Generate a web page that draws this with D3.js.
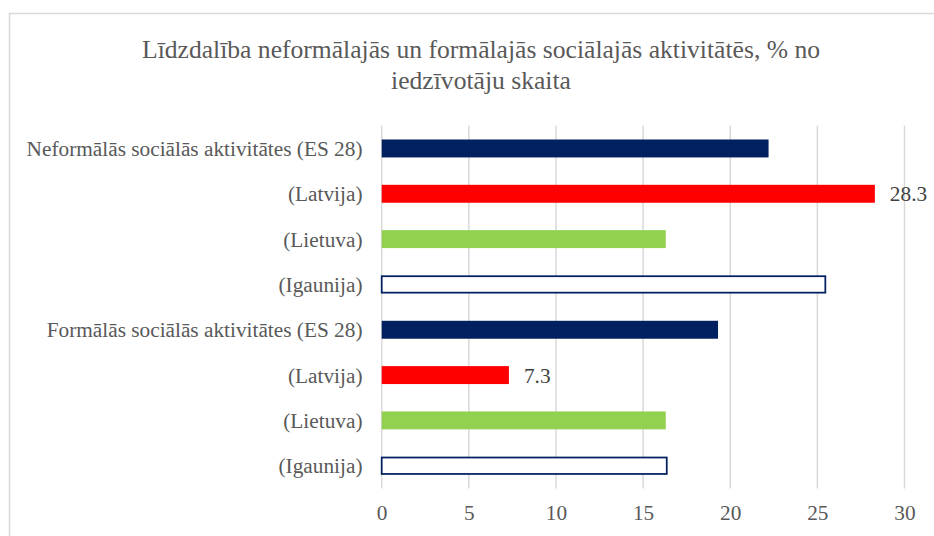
<!DOCTYPE html>
<html>
<head>
<meta charset="utf-8">
<script src="https://cdn.jsdelivr.net/npm/d3@7"></script>
<style>
html,body{margin:0;padding:0;background:#fff;}
svg{display:block;}
</style>
</head>
<body>
<svg id="chart" width="934" height="536"></svg>
<script>
const titleLines = ["Līdzdalība neformālajās un formālajās sociālajās aktivitātēs, % no", "iedzīvotāju skaita"];
const categories = [
  "Neformālās sociālās aktivitātes (ES 28)",
  "(Latvija)",
  "(Lietuva)",
  "(Igaunija)",
  "Formālās sociālās aktivitātes (ES 28)",
  "(Latvija)",
  "(Lietuva)",
  "(Igaunija)"
];
const values = [22.2, 28.3, 16.3, 25.5, 19.3, 7.3, 16.3, 16.4];
const seriesType = ["es", "lv", "lt", "ee", "es", "lv", "lt", "ee"];
const shownLabels = [false, true, false, false, false, true, false, false];
const xTicks = [0, 5, 10, 15, 20, 25, 30];

const fills = {es: "#002060", lv: "#ff0000", lt: "#92d050", ee: "#ffffff"};
const strokes = {es: "none", lv: "none", lt: "none", ee: "#002060"};

const svg = d3.select("#chart");
const font = "'Liberation Serif', 'Times New Roman', serif";
const textColor = "#595959";
const fs = 21.3;

// chart area border
svg.append("path")
  .attr("d", "M9.5,540 L9.5,13.5 L940,13.5")
  .attr("fill", "none")
  .attr("stroke", "#d9d9d9")
  .attr("stroke-width", 1.5);

const x = d3.scaleLinear().domain([0, 30]).range([381.7, 904.5]);
const idx = categories.map((d, i) => i);
const y = d3.scaleBand().domain(idx).range([125.8, 488.4]).paddingInner(0.604).paddingOuter(0.302);

// title
svg.append("text")
  .attr("x", 481)
  .attr("y", 58)
  .attr("text-anchor", "middle")
  .attr("font-family", font)
  .attr("font-size", 25.6)
  .attr("fill", textColor)
  .selectAll("tspan")
  .data(titleLines)
  .join("tspan")
  .attr("x", 481)
  .attr("dy", (d, i) => i === 0 ? 0 : 31)
  .text(d => d);

// gridlines
svg.append("g")
  .selectAll("line")
  .data(xTicks)
  .join("line")
  .attr("x1", d => x(d)).attr("x2", d => x(d))
  .attr("y1", 125.8).attr("y2", 488.4)
  .attr("stroke", "#d9d9d9")
  .attr("stroke-width", 1.5);

// x axis labels
const xAxis = d3.axisBottom(x).tickValues(xTicks).tickSize(0).tickPadding(0).tickFormat(d3.format("d"));
const gx = svg.append("g").attr("transform", "translate(0,513)").call(xAxis);
gx.select(".domain").remove();
gx.selectAll("text")
  .attr("font-family", font)
  .attr("font-size", fs)
  .attr("fill", textColor)
  .attr("dy", "0.35em");

// y axis labels
const yAxis = d3.axisLeft(y).tickSize(0).tickPadding(0).tickFormat(i => categories[i]);
const gy = svg.append("g").attr("transform", "translate(362.5,0)").call(yAxis);
gy.select(".domain").remove();
gy.selectAll("text")
  .attr("font-family", font)
  .attr("font-size", fs)
  .attr("fill", textColor)
  .attr("dy", "0.35em");

// bars
svg.append("g")
  .selectAll("rect")
  .data(idx)
  .join("rect")
  .attr("x", x(0))
  .attr("y", i => y(i) + (seriesType[i] === "ee" ? 0.75 : 0))
  .attr("width", i => x(values[i]) - x(0) - (seriesType[i] === "ee" ? 0.75 : 0))
  .attr("height", i => y.bandwidth() - (seriesType[i] === "ee" ? 1.5 : 0))
  .attr("fill", i => fills[seriesType[i]])
  .attr("stroke", i => strokes[seriesType[i]])
  .attr("stroke-width", 1.75);

// data labels
svg.append("g")
  .selectAll("text")
  .data(idx.filter(i => shownLabels[i]))
  .join("text")
  .attr("x", i => x(values[i]) + 15)
  .attr("y", i => y(i) + y.bandwidth() / 2)
  .attr("dy", "0.35em")
  .attr("font-family", font)
  .attr("font-size", fs)
  .attr("fill", "#404040")
  .text(i => values[i].toFixed(1));
</script>
</body>
</html>
